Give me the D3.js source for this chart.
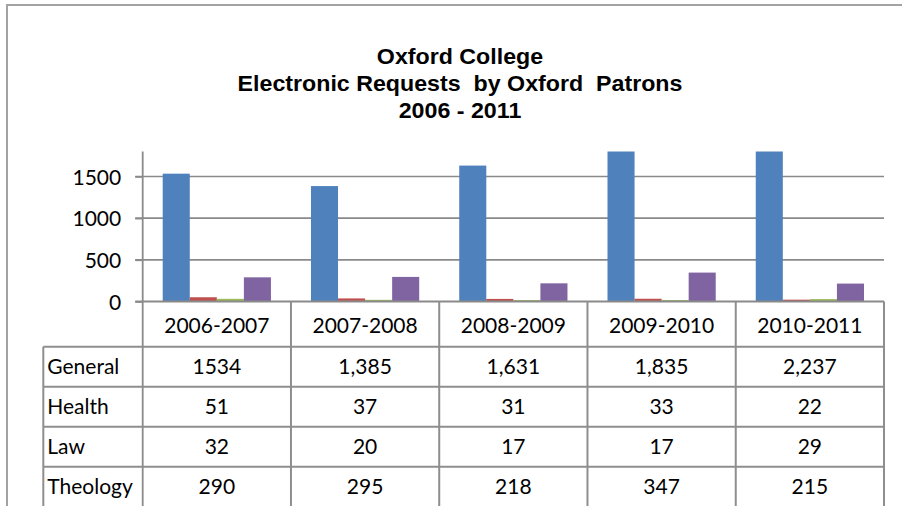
<!DOCTYPE html>
<html>
<head>
<meta charset="utf-8">
<script src="https://cdn.jsdelivr.net/npm/d3@7"></script>
<style>
  html, body { margin: 0; padding: 0; background: #ffffff; }
  svg { display: block; }
</style>
</head>
<body>
<div id="chart"></div>
<script>
// ---- Data ----
const titleLines = ["Oxford College", "Electronic Requests  by Oxford  Patrons", "2006 - 2011"];
const years = ["2006-2007", "2007-2008", "2008-2009", "2009-2010", "2010-2011"];
const seriesNames = ["General", "Health", "Law", "Theology"];
const general = [1534, 1385, 1631, 1835, 2237];
const health = [51, 37, 31, 33, 22];
const law = [32, 20, 17, 17, 29];
const theology = [290, 295, 218, 347, 215];
const tableLabels = [
  ["1534", "1,385", "1,631", "1,835", "2,237"],
  ["51", "37", "31", "33", "22"],
  ["32", "20", "17", "17", "29"],
  ["290", "295", "218", "347", "215"]
];
const yTicks = [0, 500, 1000, 1500];
const colors = ["#4f81bd", "#c0504d", "#9bbb59", "#8064a2"];

const seriesValues = [general, health, law, theology];

// ---- Layout ----
const W = 902, H = 506;
const plotLeft = 142.7, plotRight = 884, plotTop = 151.5, plotBottom = 301.5;
const headerBottom = 346.7, rowH = 40, labelLeft = 43.3;
const font = "Lato, 'Open Sans', sans-serif";

const svg = d3.select("#chart").append("svg").attr("width", W).attr("height", H);
svg.append("rect").attr("width", W).attr("height", H).attr("fill", "#fff");

// outer chart border
svg.append("rect").attr("x", 7).attr("y", 5).attr("width", 1200).attr("height", 1200)
  .attr("fill", "none").attr("stroke", "#a3a3a3").attr("stroke-width", 2);

// title
svg.append("g").attr("transform", "translate(460,0) scale(1.055,1)")
  .selectAll("text").data(titleLines).join("text")
  .attr("x", 0).attr("y", (d, i) => 64 + i * 27)
  .attr("text-anchor", "middle")
  .style("white-space", "pre")
  .attr("font-family", "'Liberation Sans', Arial, sans-serif")
  .attr("font-weight", "bold").attr("font-size", 22).attr("fill", "#000")
  .text(d => d);

// scales
const y = d3.scaleLinear().domain([0, 1800]).range([plotBottom, plotTop]);
const x0 = d3.scaleBand().domain(years).range([plotLeft, plotRight]).paddingInner(0).paddingOuter(0);
const gw = x0.bandwidth();
const x1 = d3.scaleBand().domain(seriesNames).range([gw * 0.135, gw * 0.865]).padding(0);

// gridlines
svg.append("g").selectAll("line").data(yTicks.filter(t => t > 0)).join("line")
  .attr("x1", plotLeft - 7.5).attr("x2", plotRight)
  .attr("y1", d => y(d)).attr("y2", d => y(d))
  .attr("stroke", "#8a8a8a").attr("stroke-width", 1.6);

// y axis via d3 axis (labels), styled
const yAxis = d3.axisLeft(y).tickValues(yTicks).tickSize(7.5).tickPadding(14).tickFormat(d3.format("d"));
const ya = svg.append("g").attr("transform", `translate(${plotLeft},0)`).call(yAxis);
ya.select(".domain").remove();
ya.selectAll(".tick line").attr("stroke", "#8a8a8a").attr("stroke-width", 1.6);
ya.selectAll(".tick text").attr("font-family", font).attr("font-size", 21).attr("fill", "#000")
  .attr("dy", "0.36em");

// bars, clipped to plot area
svg.append("clipPath").attr("id", "plotclip").append("rect")
  .attr("x", plotLeft).attr("y", plotTop).attr("width", plotRight - plotLeft).attr("height", plotBottom - plotTop);

const barG = svg.append("g").attr("clip-path", "url(#plotclip)");
years.forEach((yr, i) => {
  const g = barG.append("g").attr("transform", `translate(${x0(yr)},0)`);
  g.selectAll("rect").data(seriesNames.map((s, k) => ({ s, v: seriesValues[k][i], c: colors[k] }))).join("rect")
    .attr("x", d => x1(d.s)).attr("width", x1.bandwidth())
    .attr("y", d => y(d.v)).attr("height", d => y(0) - y(d.v))
    .attr("fill", d => d.c);
});

// y axis line
svg.append("line").attr("x1", plotLeft).attr("x2", plotLeft).attr("y1", plotTop).attr("y2", H + 5)
  .attr("stroke", "#8a8a8a").attr("stroke-width", 1.8);
// x axis line (top of table)
svg.append("line").attr("x1", plotLeft - 7.5).attr("x2", plotRight).attr("y1", plotBottom).attr("y2", plotBottom)
  .attr("stroke", "#8a8a8a").attr("stroke-width", 1.8);

// ---- Data table ----
const tbl = svg.append("g");
const lineC = "#8e8e8e";
years.forEach(yr => {
  tbl.append("line").attr("x1", x0(yr) + gw).attr("x2", x0(yr) + gw)
    .attr("y1", plotBottom).attr("y2", H + 5).attr("stroke", lineC).attr("stroke-width", 2);
});
seriesNames.forEach((s, r) => {
  tbl.append("line").attr("x1", labelLeft).attr("x2", plotRight)
    .attr("y1", headerBottom + r * rowH).attr("y2", headerBottom + r * rowH)
    .attr("stroke", lineC).attr("stroke-width", 2);
});
tbl.append("line").attr("x1", labelLeft).attr("x2", labelLeft)
  .attr("y1", headerBottom).attr("y2", H + 5).attr("stroke", lineC).attr("stroke-width", 2);

tbl.selectAll("text.hdr").data(years).join("text").attr("class", "hdr")
  .attr("x", d => x0(d) + gw / 2).attr("y", 333)
  .attr("text-anchor", "middle").attr("font-family", font).attr("font-size", 21).attr("fill", "#000")
  .text(d => d);

seriesNames.forEach((s, r) => {
  const base = headerBottom + r * rowH + 27.5;
  tbl.append("text").attr("x", labelLeft + 4).attr("y", base)
    .attr("font-family", font).attr("font-size", 21).attr("fill", "#000").text(s);
  tbl.append("g").selectAll("text").data(years).join("text")
    .attr("x", d => x0(d) + gw / 2).attr("y", base)
    .attr("text-anchor", "middle").attr("font-family", font).attr("font-size", 21).attr("fill", "#000")
    .text((d, i) => tableLabels[r][i]);
});
</script>
</body>
</html>
